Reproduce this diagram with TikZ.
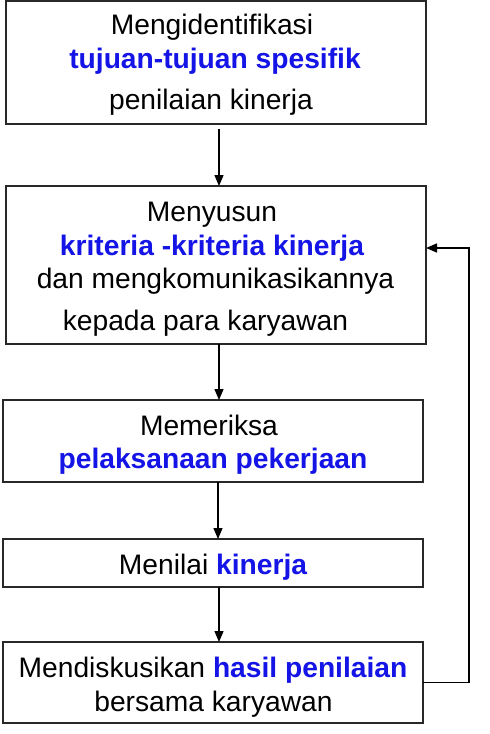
\documentclass[tikz,border=0pt]{standalone}
\usepackage{fontspec}
\setmainfont{Liberation Sans}
\usetikzlibrary{arrows.meta}
\definecolor{kblue}{RGB}{20,20,230}
\definecolor{kline}{RGB}{40,40,40}
\begin{document}
\begin{tikzpicture}[x=1pt,y=-1pt,
  boxnode/.style={draw=kline,line width=1.6pt,rectangle,inner sep=0pt,outer sep=0pt,minimum width=420pt},
  txt/.style={anchor=base,inner sep=0pt,font=\fontsize{28.2}{33}\selectfont},
  conn/.style={draw=black,line width=1.4pt,-{Triangle[length=11pt,width=9pt]}}]
\useasboundingbox (0,0) rectangle (490,734);
% boxes
\node[boxnode,minimum height=123pt] (b1) at (216,62.5) {};
\node[boxnode,minimum height=158pt] (b2) at (216,265) {};
\node[boxnode,minimum height=82pt] (b3) at (213,441) {};
\node[boxnode,minimum height=48pt] (b4) at (213,563) {};
\node[boxnode,minimum height=81pt] (b5) at (213,682.5) {};
% texts
\node[txt] (t11) at (212,34) {Mengidentifikasi};
\node[txt] (t12) at (215,68) {\bfseries\color{kblue}tujuan-tujuan spesifik};
\node[txt] (t13) at (211,109) {penilaian kinerja};
\node[txt] (t21) at (212,221) {Menyusun};
\node[txt] (t22) at (212,255) {\bfseries\color{kblue}kriteria -kriteria kinerja};
\node[txt] (t23) at (215.5,288) {dan mengkomunikasikannya};
\node[txt] (t24) at (205.5,330) {kepada para karyawan};
\node[txt] (t31) at (209,435) {Memeriksa};
\node[txt] (t32) at (213,468) {\bfseries\color{kblue}pelaksanaan pekerjaan};
\node[txt] (t41) at (213,574) {Menilai {\bfseries\color{kblue}kinerja}};
\node[txt] (t51) at (213,677) {Mendiskusikan {\bfseries\color{kblue}hasil penilaian}};
\node[txt] (t52) at (213.5,711) {bersama karyawan};
% connectors
\coordinate (a1s) at (219,129);
\draw[conn] (a1s) -- (a1s |- b2.north);
\draw[conn] (b2.south -| a1s) -- (b3.north -| a1s);
\coordinate (a3) at (218,0);
\draw[conn] (b3.south -| a3) -- (b4.north -| a3);
\draw[conn] (b4.south -| a1s) -- (b5.north -| a1s);
\coordinate (fbx) at (469,0);
\coordinate (fby) at (0,248);
\draw[conn] (b5.east) -- (b5.east -| fbx) -- (fbx |- fby) -- (fby -| b2.east);
\end{tikzpicture}
\end{document}
